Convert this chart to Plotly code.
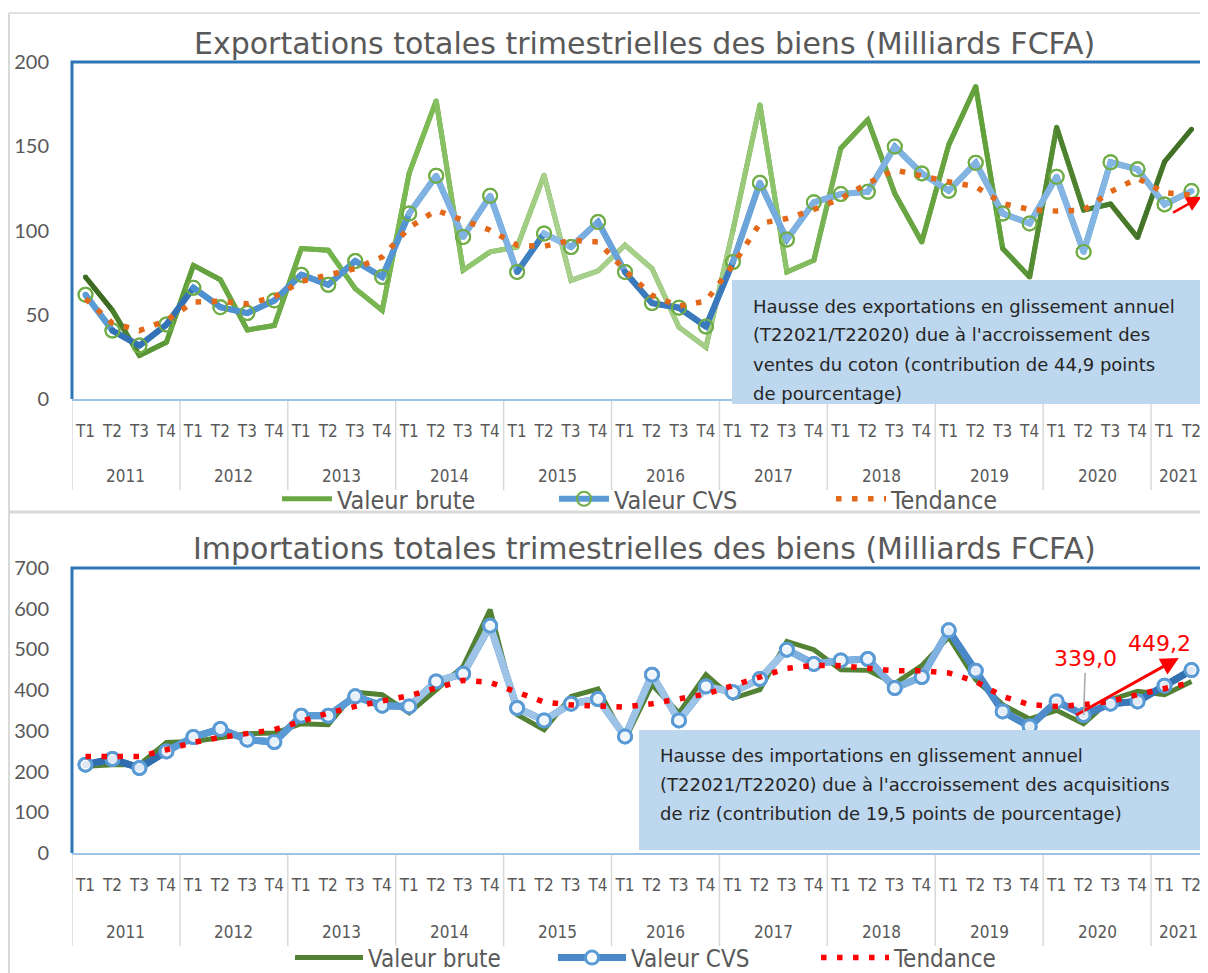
import plotly.graph_objects as go

# ---------------- data ----------------
years = ["2011", "2012", "2013", "2014", "2015", "2016", "2017", "2018", "2019", "2020", "2021"]
quarters_per_year = [4, 4, 4, 4, 4, 4, 4, 4, 4, 4, 2]
quarter_names = ["T1", "T2", "T3", "T4"]

exp_brute = [72.4, 52.6, 25.8, 33.7, 79.3, 70.8, 41.0, 43.6, 89.3, 88.3, 65.5, 52.6,
             134.0, 177.0, 76.4, 87.3, 90.2, 132.9, 70.4, 76.0, 91.3, 77.4, 42.6, 30.7,
             100.0, 174.6, 75.4, 82.3, 148.8, 165.7, 122.0, 93.2, 150.8, 185.5, 89.3, 72.4,
             161.3, 112.1, 115.7, 95.8, 140.8, 160.1]
exp_cvs = [61.9, 40.6, 31.7, 44.2, 66.0, 54.5, 51.0, 58.5, 73.8, 67.8, 81.9, 72.4,
           110.1, 132.5, 96.2, 120.6, 75.4, 98.2, 90.2, 105.1, 75.4, 56.9, 54.2, 43.0,
           81.3, 128.3, 94.6, 116.7, 121.6, 123.0, 149.8, 133.9, 123.6, 140.2, 110.1, 104.2,
           131.9, 87.3, 140.5, 136.3, 115.5, 123.4]
exp_trend = [59.5, 45.0, 40.6, 46.6, 57.5, 58.0, 56.5, 60.5, 69.8, 73.4, 77.4, 84.3,
             101.8, 112.0, 106.5, 100.2, 91.3, 90.6, 94.2, 93.2, 76.4, 61.5, 55.1, 58.1,
             79.5, 104.2, 107.1, 112.5, 119.0, 128.0, 135.9, 132.3, 128.9, 126.0, 116.0, 112.5,
             111.5, 112.1, 123.0, 131.0, 122.4, 121.0]

imp_brute = [213.0, 217.0, 217.0, 271.7, 274.0, 282.5, 293.0, 294.7, 317.6, 315.0, 395.0, 388.8,
             344.0, 401.0, 458.4, 597.6, 339.7, 302.9, 384.7, 402.8, 278.3, 413.4, 343.9, 438.0,
             380.0, 401.0, 519.8, 499.4, 450.3, 448.6, 415.9, 460.1, 530.6, 425.7, 364.3, 329.2,
             350.3, 317.6, 376.6, 397.0, 388.8, 421.5]
imp_cvs = [216.9, 230.9, 208.8, 249.6, 284.9, 304.6, 278.3, 272.6, 337.3, 337.3, 384.7, 361.8,
           360.1, 421.5, 440.4, 558.3, 356.2, 325.7, 366.7, 378.2, 286.4, 438.0, 325.7, 409.2,
           395.0, 427.4, 499.4, 464.3, 473.1, 476.5, 405.3, 432.3, 546.8, 447.8, 347.8, 311.0,
           372.4, 339.0, 366.7, 372.4, 411.0, 449.2]
imp_trend = [237.3, 235.8, 237.0, 253.7, 271.7, 284.0, 293.0, 302.9, 323.3, 343.9, 360.1, 374.9,
             386.4, 405.3, 424.0, 419.0, 394.6, 370.8, 363.5, 359.4, 358.6, 366.7, 378.2, 390.5,
             411.0, 433.8, 453.5, 460.9, 460.1, 453.5, 447.8, 447.8, 442.2, 421.5, 384.7, 364.3,
             360.1, 364.3, 372.4, 388.8, 402.8, 419.0]

title_exp = "Exportations totales trimestrielles des biens (Milliards FCFA)"
title_imp = "Importations totales trimestrielles des biens (Milliards FCFA)"
series_names = ["Valeur brute", "Valeur CVS", "Tendance"]
note_exp = ["Hausse des exportations en glissement annuel",
            "(T22021/T22020) due à l'accroissement des",
            "ventes du coton (contribution de 44,9 points",
            "de pourcentage)"]
note_imp = ["Hausse des importations en glissement annuel",
            "(T22021/T22020) due à l'accroissement des acquisitions",
            "de riz (contribution de 19,5 points de pourcentage)"]
label_start = "339,0"
label_end = "449,2"

# ---------------- helpers ----------------
OFF = 8                      # page body margin
W, H = 1208 - OFF, 973 - OFF
def px(p):
    return (p - OFF) / W
def py(p):
    return 1 - (p - OFF) / H

n = len(exp_brute)
x_idx = list(range(n))
q_labels = [quarter_names[q] for k in quarters_per_year for q in range(k)]
starts = []
s = 0
for k in quarters_per_year:
    starts.append(s)
    s += k
year_centers = [st + (k - 1) / 2 for st, k in zip(starts, quarters_per_year)]
boundaries = [st - 0.5 for st in starts] + [n - 0.5]

def hex2rgb(h):
    h = h.lstrip("#")
    return tuple(int(h[i:i + 2], 16) for i in (0, 2, 4))

def gradient(anchors, count):
    keys = sorted(anchors)
    out = []
    for i in range(count):
        if i <= keys[0]:
            out.append(anchors[keys[0]]); continue
        if i >= keys[-1]:
            out.append(anchors[keys[-1]]); continue
        for a, b in zip(keys[:-1], keys[1:]):
            if a <= i <= b:
                t = (i - a) / (b - a)
                ca, cb = hex2rgb(anchors[a]), hex2rgb(anchors[b])
                c = tuple(round(ca[j] + (cb[j] - ca[j]) * t) for j in range(3))
                out.append("rgb(%d,%d,%d)" % c)
                break
    return out

NARROW = "Liberation Sans Narrow, Arial Narrow, DejaVu Sans Condensed, sans-serif"
TXT = "DejaVu Sans, Verdana, sans-serif"
GRAY = "#595959"

fig = go.Figure()

def add_gradient_line(values, colors, width, xa, ya):
    for i in range(len(values) - 1):
        fig.add_trace(go.Scatter(x=[x_idx[i], x_idx[i + 1]], y=[values[i], values[i + 1]],
                                 mode="lines", line=dict(color=colors[i], width=width),
                                 showlegend=False, hoverinfo="skip", xaxis=xa, yaxis=ya))
    fig.add_trace(go.Scatter(x=x_idx, y=values, mode="markers",
                             marker=dict(size=width, color=colors, line=dict(width=0)),
                             showlegend=False, hoverinfo="skip", xaxis=xa, yaxis=ya))

# ---------------- top chart ----------------
brute_top_cols = gradient({0: "#3E6B22", 2: "#5A9636", 5: "#6AA843", 12: "#7DBB55", 15: "#9ACB7B",
                           17: "#A9D18E", 23: "#A3CE86", 25: "#8DC46B", 28: "#6EAA47", 33: "#62A03C",
                           36: "#4E8230", 41: "#3E6B24"}, n)
cvs_top_cols = gradient({0: "#5B9BD5", 1: "#3272B5", 3: "#3272B5", 4: "#4E8FD0", 11: "#5595D3",
                         12: "#7FB2E2", 15: "#7FB2E2", 16: "#3F80C2", 17: "#8CBBE6", 19: "#6AA2DA",
                         20: "#3A79BC", 23: "#3A79BC", 24: "#6CA4DA", 26: "#7FB2E2", 41: "#86B7E3"}, n)

fig.add_trace(go.Scatter(x=x_idx, y=exp_brute, mode="lines", name=series_names[0],
                         line=dict(color="#6AA843", width=5), legend="legend",
                         xaxis="x", yaxis="y"))
add_gradient_line(exp_brute, brute_top_cols, 5, "x", "y")
fig.add_trace(go.Scatter(x=x_idx, y=exp_cvs, mode="lines+markers", name=series_names[1],
                         line=dict(color="#5B9BD5", width=6),
                         marker=dict(symbol="circle-open", size=14, color="#70AD47", line=dict(width=2)),
                         legend="legend", xaxis="x", yaxis="y"))
add_gradient_line(exp_cvs, cvs_top_cols, 6, "x", "y")
fig.add_trace(go.Scatter(x=x_idx, y=exp_cvs, mode="markers",
                         marker=dict(symbol="circle-open", size=14, color="#70AD47", line=dict(width=2)),
                         showlegend=False, hoverinfo="skip", xaxis="x", yaxis="y"))
fig.add_trace(go.Scatter(x=x_idx, y=exp_trend, mode="lines", name=series_names[2],
                         line=dict(color="#E2691A", width=5.5, dash="5.5px,10.5px"),
                         legend="legend", xaxis="x", yaxis="y"))

# ---------------- bottom chart ----------------
cvs_bot_cols = gradient({0: "#2F6DAE", 2: "#2F6DAE", 3: "#5B9BD5", 11: "#5B9BD5", 12: "#9DC3E6",
                         25: "#9DC3E6", 26: "#7FB1E0", 31: "#7FB1E0", 32: "#4A88C8", 36: "#4F8DCB",
                         38: "#3B78B8", 41: "#2F6DAE"}, n)

fig.add_trace(go.Scatter(x=x_idx, y=imp_brute, mode="lines", name=series_names[0],
                         line=dict(color="#548235", width=5), legend="legend2",
                         xaxis="x2", yaxis="y2"))
fig.add_trace(go.Scatter(x=x_idx, y=imp_cvs, mode="lines+markers", name=series_names[1],
                         line=dict(color="#4A88C8", width=7),
                         marker=dict(symbol="circle", size=13, color="white",
                                     line=dict(color="#5B9BD5", width=3)),
                         legend="legend2", xaxis="x2", yaxis="y2"))
add_gradient_line(imp_cvs, cvs_bot_cols, 7, "x2", "y2")
fig.add_trace(go.Scatter(x=x_idx, y=imp_cvs, mode="markers",
                         marker=dict(symbol="circle", size=13, color="rgba(255,255,255,0.85)",
                                     line=dict(color="#5B9BD5", width=3)),
                         showlegend=False, hoverinfo="skip", xaxis="x2", yaxis="y2"))
fig.add_trace(go.Scatter(x=x_idx, y=imp_trend, mode="lines", name=series_names[2],
                         line=dict(color="#FF0000", width=5.5, dash="5.5px,10.5px"),
                         legend="legend2", xaxis="x2", yaxis="y2"))

# ---------------- axes ----------------
xcommon = dict(range=[-0.5, n - 0.5], tickmode="array", tickvals=x_idx, ticktext=q_labels,
               ticks="", ticklabelstandoff=16, showline=True, linecolor="#9DC3E6", linewidth=2,
               showgrid=False, zeroline=False, tickfont=dict(family=NARROW, size=17, color=GRAY),
               domain=[px(72), px(1205)], fixedrange=True, automargin=False)
ycommon = dict(showgrid=False, zeroline=False, showline=False, ticks="", ticklabelstandoff=22,
               tickfont=dict(family="Lato, sans-serif", size=20, color=GRAY), fixedrange=True,
               automargin=False)

top_dom = [py(399), py(62)]
bot_dom = [py(853), py(568)]
fig.update_layout(
    xaxis=dict(**xcommon, anchor="y"),
    yaxis=dict(**ycommon, domain=top_dom, range=[0, 200], dtick=50, anchor="x"),
    xaxis2=dict(**xcommon, anchor="y2"),
    yaxis2=dict(**ycommon, domain=bot_dom, range=[0, 700], dtick=100, anchor="x2"),
)

shapes = []
annotations = []

# frame
shapes.append(dict(type="line", xref="paper", yref="paper", x0=px(9), x1=px(9), y0=py(13), y1=0,
                   line=dict(color="#D9D9D9", width=2)))
shapes.append(dict(type="line", xref="paper", yref="paper", x0=px(9), x1=1, y0=py(13), y1=py(13),
                   line=dict(color="#D9D9D9", width=1.5)))
shapes.append(dict(type="line", xref="paper", yref="paper", x0=px(9), x1=1, y0=py(512), y1=py(512),
                   line=dict(color="#D9D9D9", width=3)))

for xa, dom, y_lo_px, yr_y in [("x", top_dom, 490, 476), ("x2", bot_dom, 946, 932)]:
    x0, x1 = px(72), px(1205)
    shapes.append(dict(type="path", xref="paper", yref="paper",
                       path="M %f,%f L %f,%f L %f,%f L %f,%f" % (x0, dom[0], x0, dom[1], x1, dom[1], x1, dom[0]),
                       line=dict(color="#2E75B6", width=3)))
    for b in boundaries:
        shapes.append(dict(type="line", xref=xa, yref="paper", x0=b, x1=b, y0=dom[0] - 2 / H, y1=py(y_lo_px),
                           line=dict(color="#D9D9D9", width=1.5), layer="below"))
    for yc, yl in zip(year_centers, years):
        annotations.append(dict(x=yc, xref=xa, y=py(yr_y), yref="paper", text=yl, showarrow=False,
                                xanchor="center", yanchor="middle",
                                font=dict(family=NARROW, size=17, color=GRAY)))

# titles
for ttl, yy in [(title_exp, 44), (title_imp, 548)]:
    annotations.append(dict(x=px(644), y=py(yy), xref="paper", yref="paper", text=ttl, showarrow=False,
                            xanchor="center", yanchor="middle",
                            font=dict(family=TXT, size=30, color=GRAY)))

# note boxes
shapes.append(dict(type="rect", xref="paper", yref="paper", x0=px(732), x1=px(1201), y0=py(404), y1=py(280),
                   fillcolor="#BDD7EE", line=dict(width=0), layer="above"))
shapes.append(dict(type="rect", xref="paper", yref="paper", x0=px(639), x1=px(1204), y0=py(850), y1=py(730),
                   fillcolor="#BDD7EE", line=dict(width=0), layer="above"))
for k, line in enumerate(note_exp):
    annotations.append(dict(x=px(751), y=py(306 + 29 * k), xref="paper", yref="paper", text=line,
                            showarrow=False, xanchor="left", yanchor="middle",
                            font=dict(family=TXT, size=18, color="#262626")))
for k, line in enumerate(note_imp):
    annotations.append(dict(x=px(658), y=py(755 + 29 * k), xref="paper", yref="paper", text=line,
                            showarrow=False, xanchor="left", yanchor="middle",
                            font=dict(family=TXT, size=18, color="#262626")))

# red arrows
annotations.append(dict(x=n - 1 + 0.37, y=exp_cvs[-1] - 3.4, ax=n - 1 - 0.74, ay=exp_cvs[-1] - 13.3,
                        xref="x", yref="y", axref="x", ayref="y", text="", showarrow=True,
                        arrowhead=2, arrowsize=1.2, arrowwidth=2.5, arrowcolor="#FF0000"))
annotations.append(dict(x=n - 1 - 0.47, y=imp_cvs[-1] + 30, ax=37 - 0.33, ay=imp_cvs[37] - 2,
                        xref="x2", yref="y2", axref="x2", ayref="y2", text="", showarrow=True,
                        arrowhead=2, arrowsize=1.2, arrowwidth=3, arrowcolor="#FF0000"))
# value labels
annotations.append(dict(x=37, y=imp_cvs[37], xref="x2", yref="y2", text=label_start, showarrow=True,
                        arrowhead=0, arrowwidth=1.5, arrowcolor="#A6A6A6", ax=2, ay=-56,
                        xanchor="center", yanchor="middle",
                        font=dict(family=TXT, size=22, color="#FF0000")))
annotations.append(dict(x=n - 1, y=imp_cvs[-1], xref="x2", yref="y2", text=label_end, showarrow=False,
                        xshift=-32, yshift=27, xanchor="center", yanchor="middle",
                        font=dict(family=TXT, size=22, color="#FF0000")))

legend_common = dict(orientation="h", xanchor="left", yanchor="middle",
                     bgcolor="rgba(0,0,0,0)", entrywidthmode="pixels", tracegroupgap=0)
fig.update_layout(
    width=W, height=H, margin=dict(l=0, r=0, t=0, b=0, autoexpand=False),
    paper_bgcolor="white", plot_bgcolor="white",
    shapes=shapes, annotations=annotations,
    legend=dict(**legend_common, x=px(277), y=py(499), entrywidth=212, itemwidth=50,
                font=dict(family=NARROW, size=25, color=GRAY)),
    legend2=dict(**legend_common, x=px(290), y=py(958), entrywidth=180, itemwidth=68,
                 font=dict(family=NARROW, size=24, color=GRAY)),
    showlegend=True,
)

fig.write_html("out.html")
